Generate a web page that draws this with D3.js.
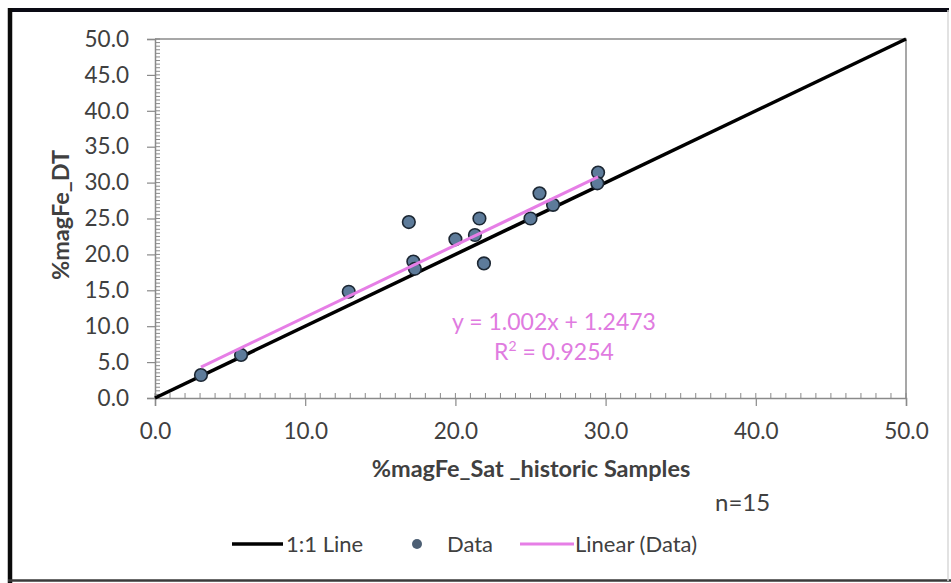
<!DOCTYPE html>
<html>
<head>
<meta charset="utf-8">
<script src="https://cdn.jsdelivr.net/npm/d3@7"></script>
<style>
  html, body { margin: 0; padding: 0; background: #fff; }
  svg { display: block; }
  text { font-family: Lato, "Open Sans", sans-serif; }
</style>
</head>
<body>
<svg id="chart" width="951" height="583"></svg>
<script>
// Sample values: %magFe_Sat (historic) vs %magFe_DT
const satValues = [3.06, 5.73, 12.9, 16.9, 17.2, 17.3, 20.0, 21.3, 21.6, 21.9, 25.0, 25.6, 26.5, 29.5, 29.45];
const dtValues  = [3.2, 6.0, 14.8, 24.5, 19.0, 18.0, 22.1, 22.7, 25.0, 18.75, 25.0, 28.5, 26.9, 31.4, 29.9];

// 1:1 reference line end points
const oneToOne = [[0, 0], [50, 50]];

// Least-squares trend reported for the data
const trendSlope = 1.002;
const trendIntercept = 1.2473;
const rSquared = 0.9254;

const xTicks = [0, 10, 20, 30, 40, 50];
const yTicks = [0, 5, 10, 15, 20, 25, 30, 35, 40, 45, 50];
const legendLabels = ["1:1 Line", "Data", "Linear (Data)"];
const xTitle = "%magFe_Sat _historic Samples";
const yTitle = "%magFe_DT";
const countLabel = "n=" + satValues.length;

const svg = d3.select("#chart");
const plot = { left: 155, right: 906, top: 39, bottom: 398 };

const x = d3.scaleLinear().domain([0, 50]).range([plot.left, plot.right]);
const y = d3.scaleLinear().domain([0, 50]).range([plot.bottom, plot.top]);

const textColor = "#404040";
const axisColor = "#8a8a8a";

// Outer frame
svg.append("rect").attr("x", 0).attr("y", 0).attr("width", 951).attr("height", 583).attr("fill", "#fff");
svg.append("line").attr("x1", 10).attr("x2", 949).attr("y1", 10).attr("y2", 10)
  .attr("stroke", "#0a0a14").attr("stroke-width", 4);
svg.append("line").attr("x1", 10).attr("x2", 10).attr("y1", 8).attr("y2", 583)
  .attr("stroke", "#0a0a0a").attr("stroke-width", 4.5);
svg.append("line").attr("x1", 8).attr("x2", 951).attr("y1", 580.5).attr("y2", 580.5)
  .attr("stroke", "#3a3a3a").attr("stroke-width", 2.5);
svg.append("line").attr("x1", 948).attr("x2", 948).attr("y1", 10).attr("y2", 581)
  .attr("stroke", "#d8d8d8").attr("stroke-width", 1.5);

// Plot border (top and right)
svg.append("path")
  .attr("d", `M${plot.left},${plot.top}H${plot.right}V${plot.bottom}`)
  .attr("fill", "none").attr("stroke", axisColor).attr("stroke-width", 1.5);

// Minor ticks
const xMinor = d3.range(0, 50.01, 1);
const yMinor = d3.range(0, 50.01, 0.5);
svg.append("g").selectAll("line").data(xMinor).join("line")
  .attr("x1", d => x(d)).attr("x2", d => x(d))
  .attr("y1", plot.bottom - 5).attr("y2", plot.bottom)
  .attr("stroke", axisColor).attr("stroke-width", 1);
svg.append("g").selectAll("line").data(yMinor).join("line")
  .attr("x1", plot.left).attr("x2", plot.left + 5)
  .attr("y1", d => y(d)).attr("y2", d => y(d))
  .attr("stroke", axisColor).attr("stroke-width", 1);

// Axes with major ticks
const xAxis = svg.append("g").attr("transform", `translate(0,${plot.bottom})`)
  .call(d3.axisBottom(x).tickValues(xTicks).tickFormat(d3.format(".1f")).tickSize(8).tickPadding(17));
const yAxis = svg.append("g").attr("transform", `translate(${plot.left},0)`)
  .call(d3.axisLeft(y).tickValues(yTicks).tickFormat(d3.format(".1f")).tickSize(8).tickPadding(18));
[xAxis, yAxis].forEach(g => {
  g.select(".domain").attr("stroke", axisColor).attr("stroke-width", 1.5);
  g.selectAll(".tick line").attr("stroke", axisColor).attr("stroke-width", 1.2);
  g.selectAll(".tick text").attr("fill", textColor)
    .style("font-family", "Lato, sans-serif").style("font-size", "22.5px");
});

// Axis titles
svg.append("text").attr("x", 531).attr("y", 477).attr("text-anchor", "middle")
  .attr("fill", textColor).style("font-size", "23.5px").style("font-weight", "bold").text(xTitle);
svg.append("text").attr("transform", "translate(69,215) rotate(-90)").attr("text-anchor", "middle")
  .attr("fill", textColor).style("font-size", "23.5px").style("font-weight", "bold").text(yTitle);

// 1:1 line
const line = d3.line().x(d => x(d[0])).y(d => y(d[1]));
svg.append("path").datum(oneToOne).attr("d", line)
  .attr("fill", "none").attr("stroke", "#000").attr("stroke-width", 3.5);

// Data points
const points = satValues.map((v, i) => [v, dtValues[i]]);
svg.append("g").selectAll("circle").data(points).join("circle")
  .attr("cx", d => x(d[0])).attr("cy", d => y(d[1])).attr("r", 6.3)
  .attr("fill", "#5d7b9a").attr("stroke", "#1c2733").attr("stroke-width", 1.6);

// Linear trend over the sampled range
const [xMin, xMax] = d3.extent(satValues);
const trend = [[xMin, trendSlope * xMin + trendIntercept], [xMax, trendSlope * xMax + trendIntercept]];
svg.append("path").datum(trend).attr("d", line)
  .attr("fill", "none").attr("stroke", "#e67ee6").attr("stroke-width", 3);

// Trend equation
svg.append("text").attr("x", 554).attr("y", 330).attr("text-anchor", "middle")
  .attr("fill", "#e07be0").style("font-size", "23px")
  .text(`y = ${trendSlope}x + ${trendIntercept}`);
const r2 = svg.append("text").attr("x", 554).attr("y", 360).attr("text-anchor", "middle")
  .attr("fill", "#e07be0").style("font-size", "23px");
r2.append("tspan").text("R");
r2.append("tspan").attr("dy", -9).style("font-size", "14px").text("2");
r2.append("tspan").attr("dy", 9).text(` = ${rSquared}`);

// Sample count
svg.append("text").attr("x", 715).attr("y", 511).attr("fill", textColor)
  .style("font-size", "24px").text(countLabel);

// Legend
const ly = 544;
svg.append("line").attr("x1", 232).attr("x2", 283).attr("y1", ly).attr("y2", ly)
  .attr("stroke", "#000").attr("stroke-width", 3.5);
svg.append("text").attr("x", 286).attr("y", ly + 8).attr("fill", textColor)
  .style("font-size", "22px").text(legendLabels[0]);
svg.append("circle").attr("cx", 417).attr("cy", ly).attr("r", 5).attr("fill", "#4d5f74");
svg.append("text").attr("x", 447).attr("y", ly + 8).attr("fill", textColor)
  .style("font-size", "22px").text(legendLabels[1]);
svg.append("line").attr("x1", 520).attr("x2", 574).attr("y1", ly).attr("y2", ly)
  .attr("stroke", "#e67ee6").attr("stroke-width", 3);
svg.append("text").attr("x", 575).attr("y", ly + 8).attr("fill", textColor)
  .style("font-size", "22px").text(legendLabels[2]);
</script>
</body>
</html>
